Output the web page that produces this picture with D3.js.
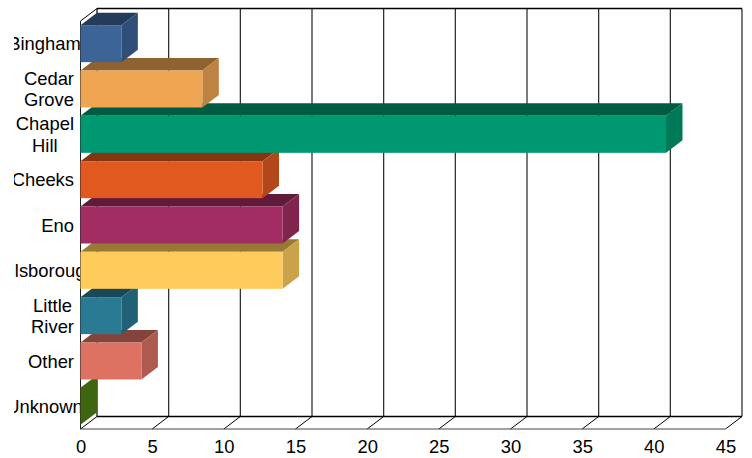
<!DOCTYPE html>
<html>
<head>
<meta charset="utf-8">
<script src="https://cdn.jsdelivr.net/npm/d3@7"></script>
<style>
html, body { margin: 0; padding: 0; background: #fff; }
text { font-family: "Liberation Sans", Arial, sans-serif; font-size: 18.4px; fill: #000; }
</style>
</head>
<body>
<div id="chart"></div>
<script>
var categories = ["Bingham", "Cedar Grove", "Chapel Hill", "Cheeks", "Eno", "Hillsborough", "Little River", "Other", "Unknown"];
var wrapped = [["Bingham"], ["Cedar", "Grove"], ["Chapel", "Hill"], ["Cheeks"], ["Eno"], ["Hillsborough"], ["Little", "River"], ["Other"], ["Unknown"]];
var values = [2.85, 8.5, 40.85, 12.7, 14.1, 14.1, 2.85, 4.25, 0];
var colors = ["#3c6497", "#f0a553", "#009870", "#e1591f", "#a22d62", "#ffcc5c", "#2a7a94", "#dd7263", "#4e7f14"];
var ticks = [0, 5, 10, 15, 20, 25, 30, 35, 40, 45];

var width = 752, height = 458;
var depthX = 16.5, depthY = -12.5;

var x = d3.scaleLinear().domain([0, 45]).range([80.5, 725.5]);
var y = d3.scaleBand().domain(categories).range([21, 429]).paddingInner(0.184).paddingOuter(0.092);

var svg = d3.select("#chart").append("svg")
    .attr("width", width)
    .attr("height", height)
    .style("display", "block");

svg.append("clipPath").attr("id", "labelClip")
    .append("rect").attr("x", 14).attr("y", 0).attr("width", 66).attr("height", height);

//Back wall gridlines and the floor diagonals
var grid = svg.append("g").attr("fill", "none");

grid.selectAll("line.back").data(ticks).enter().append("line")
    .attr("x1", function(d) { return x(d) + depthX; })
    .attr("x2", function(d) { return x(d) + depthX; })
    .attr("y1", 21 + depthY)
    .attr("y2", 429 + depthY)
    .attr("stroke", function(d) { return d === 0 ? "#000" : "#222"; })
    .attr("stroke-width", 1.2);

grid.selectAll("line.floor").data(ticks).enter().append("line")
    .attr("x1", function(d) { return x(d); })
    .attr("x2", function(d) { return x(d) + depthX; })
    .attr("y1", 429)
    .attr("y2", 429 + depthY)
    .attr("stroke", "#000");

grid.append("line").attr("x1", x(0) + depthX).attr("x2", x(45) + depthX)
    .attr("y1", 21 + depthY).attr("y2", 21 + depthY).attr("stroke", "#000").attr("stroke-width", 1.3);
grid.append("line").attr("x1", x(0) + depthX).attr("x2", x(45) + depthX)
    .attr("y1", 429 + depthY).attr("y2", 429 + depthY).attr("stroke", "#000").attr("stroke-width", 1.3);
grid.append("line").attr("x1", x(0)).attr("x2", x(45))
    .attr("y1", 429).attr("y2", 429).attr("stroke", "#444");
grid.append("line").attr("x1", x(0)).attr("x2", x(0) + depthX)
    .attr("y1", 21).attr("y2", 21 + depthY).attr("stroke", "#000");
grid.append("line").attr("x1", x(0)).attr("x2", x(0))
    .attr("y1", 21).attr("y2", 429).attr("stroke", "#222");

//Bars go bottom first, the upper ones sit on top of them
var order = d3.range(categories.length).reverse();
var bars = svg.append("g");

order.forEach(function(i) {
    var x0 = x(0), x1 = x(values[i]);
    var y0 = y(categories[i]), y1 = y0 + y.bandwidth();
    var base = d3.color(colors[i]);
    var bar = bars.append("g");

    //Top face
    bar.append("path")
        .attr("d", d3.line()([[x0, y0], [x0 + depthX, y0 + depthY], [x1 + depthX, y0 + depthY], [x1, y0]]) + "Z")
        .attr("fill", base.darker(1.45));
    //Side face
    bar.append("path")
        .attr("d", d3.line()([[x1, y0], [x1 + depthX, y0 + depthY], [x1 + depthX, y1 + depthY], [x1, y1]]) + "Z")
        .attr("fill", base.darker(0.65));
    //Front face
    bar.append("rect")
        .attr("x", x0).attr("y", y0)
        .attr("width", x1 - x0).attr("height", y.bandwidth())
        .attr("fill", colors[i]);
});

//Bottom axis, only the labels
var axis = svg.append("g")
    .attr("transform", "translate(0,429)")
    .call(d3.axisBottom(x).tickValues(ticks).tickSize(0).tickPadding(11));
axis.select(".domain").remove();
axis.selectAll("text").style("font-size", "18.4px").style("font-family", '"Liberation Sans", Arial, sans-serif').attr("fill", "#000");

//Category labels, long ones get cut by the label box
var labels = svg.append("g").attr("clip-path", "url(#labelClip)");

categories.forEach(function(c, i) {
    var lines = wrapped[i];
    var cy = y(c) + y.bandwidth() / 2;
    var label = labels.append("text").attr("text-anchor", "middle");
    lines.forEach(function(line, j) {
        label.append("tspan")
            .attr("x", 0)
            .attr("y", cy + 6.6 + (j - (lines.length - 1) / 2) * 21.3)
            .text(line);
    });
    var widest = d3.max(label.selectAll("tspan").nodes(), function(n) { return n.getComputedTextLength(); });
    var center = widest > 66 ? 44.5 : 74 - widest / 2;
    label.selectAll("tspan").attr("x", center);
});
</script>
</body>
</html>
